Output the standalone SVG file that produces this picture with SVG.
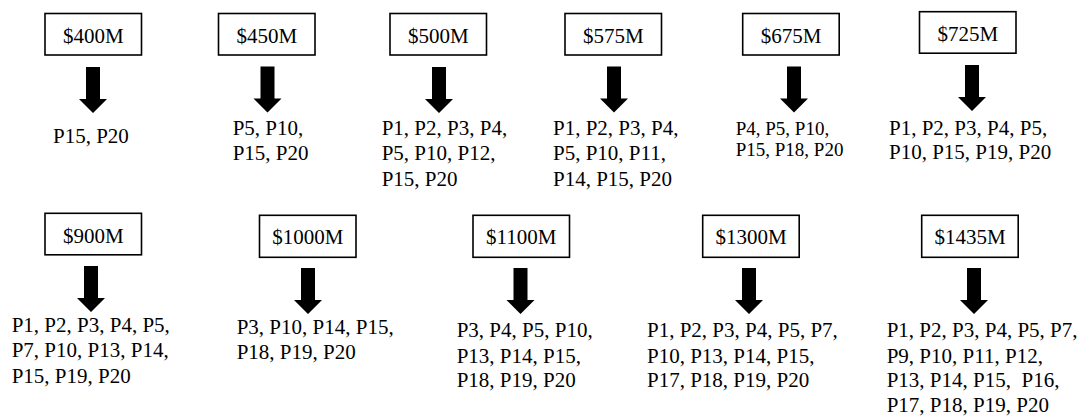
<svg xmlns="http://www.w3.org/2000/svg" xmlns:xlink="http://www.w3.org/1999/xlink" width="1081" height="418" viewBox="0 0 1081 418">
<style>
  .box { fill: #ffffff; stroke: #000000; stroke-width: 1.6; }
  text { font-family: 'Liberation Serif', 'Times New Roman', serif; font-size: 21px; fill: #000000; }
  .lbl { text-anchor: middle; }
  .lst { white-space: pre; }
  .sm { font-size: 19px; }
  .arr { fill: #000000; stroke: none; }
</style>
<defs>
  <path id="arrow" class="arr" d="M-7,0 H7 V32 H14 L0,46 L-14,32 H-7 Z"/>
</defs>
<rect width="1081" height="418" fill="#ffffff"/>

<g id="connectors">
  <use xlink:href="#arrow" href="#arrow" x="93" y="67"/>
  <use xlink:href="#arrow" href="#arrow" x="267.5" y="66.5"/>
  <use xlink:href="#arrow" href="#arrow" x="439" y="67"/>
  <use xlink:href="#arrow" href="#arrow" x="614" y="66.5"/>
  <use xlink:href="#arrow" href="#arrow" x="794" y="66.5"/>
  <use xlink:href="#arrow" href="#arrow" x="972" y="65"/>
  <use xlink:href="#arrow" href="#arrow" x="91" y="266"/>
  <use xlink:href="#arrow" href="#arrow" x="308" y="268"/>
  <use xlink:href="#arrow" href="#arrow" x="520.5" y="268"/>
  <use xlink:href="#arrow" href="#arrow" x="749" y="268"/>
  <use xlink:href="#arrow" href="#arrow" x="974" y="268"/>
</g>

<g id="n400">
  <rect class="box" x="45" y="13.5" width="96.5" height="41.5"/>
  <text class="lbl" x="93.3" y="42.7">$400M</text>
  <text class="lst" x="53" y="143.3">P15, P20</text>
</g>
<g id="n450">
  <rect class="box" x="218.5" y="13.5" width="96.5" height="41.5"/>
  <text class="lbl" x="266.8" y="42.7">$450M</text>
  <text class="lst" x="232.7" y="135">P5, P10,</text>
  <text class="lst" x="232.7" y="159.5">P15, P20</text>
</g>
<g id="n500">
  <rect class="box" x="390" y="13.5" width="96.5" height="41.5"/>
  <text class="lbl" x="438.3" y="42.7">$500M</text>
  <text class="lst" x="381.7" y="134.5">P1, P2, P3, P4,</text>
  <text class="lst" x="381.7" y="160">P5, P10, P12,</text>
  <text class="lst" x="381.7" y="185.5">P15, P20</text>
</g>
<g id="n575">
  <rect class="box" x="565" y="13.5" width="96.5" height="41.5"/>
  <text class="lbl" x="613.3" y="42.7">$575M</text>
  <text class="lst" x="553" y="134.5">P1, P2, P3, P4,</text>
  <text class="lst" x="553" y="160">P5, P10, P11,</text>
  <text class="lst" x="553" y="185.5">P14, P15, P20</text>
</g>
<g id="n675">
  <rect class="box" x="742.7" y="13.5" width="96.5" height="41.5"/>
  <text class="lbl" x="791" y="42.7">$675M</text>
  <text class="lst sm" x="735.7" y="135">P4, P5, P10,</text>
  <text class="lst sm" x="735.7" y="155.5">P15, P18, P20</text>
</g>
<g id="n725">
  <rect class="box" x="919.5" y="11.7" width="96.5" height="41.5"/>
  <text class="lbl" x="967.8" y="40.8">$725M</text>
  <text class="lst" x="889" y="135">P1, P2, P3, P4, P5,</text>
  <text class="lst" x="889" y="159">P10, P15, P19, P20</text>
</g>

<g id="n900">
  <rect class="box" x="45" y="213.3" width="96.5" height="41.5"/>
  <text class="lbl" x="93.3" y="242.5">$900M</text>
  <text class="lst" x="11.7" y="331.7">P1, P2, P3, P4, P5,</text>
  <text class="lst" x="11.7" y="357.3">P7, P10, P13, P14,</text>
  <text class="lst" x="11.7" y="382.7">P15, P19, P20</text>
</g>
<g id="n1000">
  <rect class="box" x="259.5" y="215.3" width="96.5" height="42"/>
  <text class="lbl" x="307.8" y="244.3">$1000M</text>
  <text class="lst" x="236.7" y="334">P3, P10, P14, P15,</text>
  <text class="lst" x="236.7" y="359">P18, P19, P20</text>
</g>
<g id="n1100">
  <rect class="box" x="473" y="215.3" width="96.5" height="42"/>
  <text class="lbl" x="521.3" y="244.3">$1100M</text>
  <text class="lst" x="456.7" y="336.7">P3, P4, P5, P10,</text>
  <text class="lst" x="456.7" y="362.5">P13, P14, P15,</text>
  <text class="lst" x="456.7" y="387">P18, P19, P20</text>
</g>
<g id="n1300">
  <rect class="box" x="702.7" y="215.3" width="96.5" height="42"/>
  <text class="lbl" x="751" y="244.3">$1300M</text>
  <text class="lst" x="647" y="336.7">P1, P2, P3, P4, P5, P7,</text>
  <text class="lst" x="647" y="362.5">P10, P13, P14, P15,</text>
  <text class="lst" x="647" y="387">P17, P18, P19, P20</text>
</g>
<g id="n1435">
  <rect class="box" x="921.7" y="215.3" width="96.5" height="42"/>
  <text class="lbl" x="970" y="244.3">$1435M</text>
  <text class="lst" x="886.7" y="336.7">P1, P2, P3, P4, P5, P7,</text>
  <text class="lst" x="886.7" y="362.5">P9, P10, P11, P12,</text>
  <text class="lst" x="886.7" y="387">P13, P14, P15,  P16,</text>
  <text class="lst" x="886.7" y="411.7">P17, P18, P19, P20</text>
</g>
</svg>
